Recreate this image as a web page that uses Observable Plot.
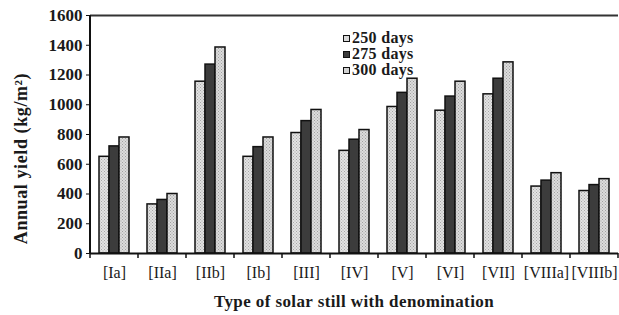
<!DOCTYPE html>
<html>
<head>
<meta charset="utf-8">
<script src="https://cdn.jsdelivr.net/npm/d3@7"></script>
<script src="https://cdn.jsdelivr.net/npm/@observablehq/plot@0.6"></script>
<style>
  html, body { margin: 0; padding: 0; background: #fff; }
  #wrap { position: relative; width: 619px; height: 315px; font-family: "Liberation Serif", "Times New Roman", serif; }
  #legend { position: absolute; left: 343px; top: 30px; font-weight: bold; font-size: 16px; line-height: 16px; letter-spacing: 0.3px; color: #1a1a1a; }
  #legend .row { display: flex; align-items: center; }
  #legend .sw { width: 5px; height: 5px; border: 1.5px solid #111; margin-right: 2px; }
  .ls text { letter-spacing: 0.6px; }
</style>
</head>
<body>
<div id="wrap"></div>
<script>
const categories = ["[Ia]", "[IIa]", "[IIb]", "[Ib]", "[III]", "[IV]", "[V]", "[VI]", "[VII]", "[VIIIa]", "[VIIIb]"];
const series = ["250 days", "275 days", "300 days"];
const days250 = [650, 330, 1155, 650, 810, 690, 985, 960, 1070, 450, 420];
const days275 = [720, 360, 1270, 715, 890, 765, 1080, 1055, 1175, 490, 460];
const days300 = [780, 400, 1385, 780, 965, 830, 1175, 1155, 1285, 540, 500];
const yTicks = [0, 200, 400, 600, 800, 1000, 1200, 1400, 1600];
const swatchColors = ["#dadada", "#3c3c3c", "#d2d2d2"];
const barFills = ["url(#dotsA)", "#3c3c3c", "url(#dotsB)"];

const valuesBySeries = [days250, days275, days300];
const data = [];
categories.forEach((c, i) => {
  series.forEach((s, j) => data.push({cat: c, series: s, value: valuesBySeries[j][i]}));
});

const plot = Plot.plot({
  width: 619,
  height: 315,
  marginTop: 15,
  marginBottom: 62,
  marginLeft: 88,
  marginRight: 0,
  style: {fontFamily: "Liberation Serif, Times New Roman, serif", color: "#1a1a1a", background: "#fff"},
  fx: {domain: categories, padding: 0},
  x: {domain: series, paddingInner: 0, paddingOuter: 0.755, axis: null},
  y: {domain: [0, 1600]},
  color: {domain: series, range: barFills},
  marks: [
    Plot.ruleY([1600], {stroke: "#333", strokeWidth: 2}),
    Plot.barY(data, {fx: "cat", x: "series", y: "value", fill: "series", stroke: "#111", strokeWidth: 1.5, inset: 0}),
    Plot.ruleY([0], {stroke: "#111", strokeWidth: 2}),
    Plot.axisY({ticks: yTicks, tickSize: 4, tickPadding: 4, fontSize: 17, fontWeight: "bold", label: null, tickFormat: d => String(d), stroke: "#111"}),
    Plot.axisFx({anchor: "bottom", tickSize: 0, tickPadding: 13, fontSize: 16, label: null}),
    Plot.text([{cat: "[Ia]", t: "Annual yield (kg/m²)"}], {fx: "cat", text: "t", frameAnchor: "left", textAnchor: "middle", rotate: -90, dx: -69, dy: 24, fontSize: 18, fontWeight: "bold", fill: "#1a1a1a", className: "ls"})
  ]
});
document.getElementById("wrap").appendChild(plot);

// extra decorations drawn from the plot's own scales
const svg = d3.select(plot);
const defs = svg.insert("defs", ":first-child");
[["dotsA", "#e2e2e2", "#a8a8a8"], ["dotsB", "#dcdcdc", "#a0a0a0"]].forEach(([id, bg, dot]) => {
  const p = defs.append("pattern").attr("id", id).attr("width", 3).attr("height", 3).attr("patternUnits", "userSpaceOnUse");
  p.append("rect").attr("width", 3).attr("height", 3).attr("fill", bg);
  p.append("rect").attr("width", 1).attr("height", 1).attr("fill", dot);
  p.append("rect").attr("x", 1.5).attr("y", 1.5).attr("width", 1).attr("height", 1).attr("fill", dot);
});
const fx = plot.scale("fx");
const y = plot.scale("y");
const y0 = y.apply(0), yTop = y.apply(1600);
const left = fx.apply(categories[0]);
const right = fx.apply(categories[categories.length - 1]) + fx.bandwidth;
const g = svg.append("g").attr("stroke", "#111");
g.append("line").attr("x1", left).attr("x2", left).attr("y1", yTop).attr("y2", y0 + 1).attr("stroke-width", 2);
categories.forEach(c => {
  const x = fx.apply(c);
  g.append("line").attr("x1", x).attr("x2", x).attr("y1", y0).attr("y2", y0 + 5).attr("stroke-width", 1.5);
});
g.append("line").attr("x1", right).attr("x2", right).attr("y1", y0).attr("y2", y0 + 5).attr("stroke-width", 1.5);
svg.append("text")
  .attr("x", (left + right) / 2).attr("y", y0 + 54)
  .attr("text-anchor", "middle").attr("font-size", 17).attr("font-weight", "bold")
  .attr("letter-spacing", "0.4px").attr("fill", "#1a1a1a")
  .text("Type of solar still with denomination");

const legend = document.createElement("div");
legend.id = "legend";
series.forEach((s, j) => {
  const row = document.createElement("div");
  row.className = "row";
  const sw = document.createElement("span");
  sw.className = "sw";
  sw.style.background = swatchColors[j];
  row.appendChild(sw);
  row.appendChild(document.createTextNode(s));
  legend.appendChild(row);
});
document.getElementById("wrap").appendChild(legend);
</script>
</body>
</html>
